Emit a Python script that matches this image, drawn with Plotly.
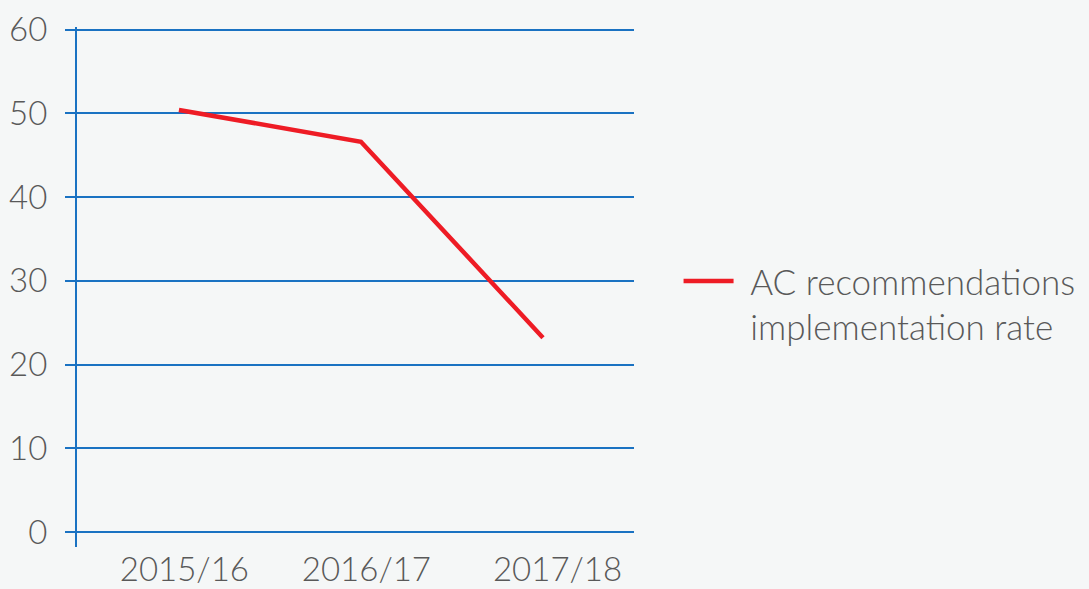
import plotly.graph_objects as go

years = ["2015/16", "2016/17", "2017/18"]
rate = [50.4, 46.6, 23.2]
y_ticks = [0, 10, 20, 30, 40, 50, 60]
series_name = "\u2006\u2006AC recommendations<br>\u2006\u2006implementation rate"

BLUE = "#1a72c2"
RED = "#ee1c25"
GREY = "#595959"
BG = "#f5f7f7"
FONT = dict(family="Lato", size=33, color=GREY, weight=300)
LEG_FONT = dict(family="Lato", size=35, color=GREY, weight=300)

fig = go.Figure()
fig.add_trace(go.Scatter(x=[0, 1, 2], y=rate, mode="lines", name=series_name,
                         line=dict(color=RED, width=4.5)))

fig.update_layout(
    width=1089, height=589,
    paper_bgcolor=BG, plot_bgcolor=BG,
    margin=dict(l=77, r=455, t=26.5, b=42, autoexpand=False),
    font=FONT,
    showlegend=True,
    legend=dict(x=1.08, y=0.468, xanchor="left", yanchor="middle", valign="top",
                bgcolor="rgba(0,0,0,0)", font=LEG_FONT, itemwidth=50),
    xaxis=dict(range=[-0.56, 2.5], tickvals=[0.03, 1.03, 2.08], ticktext=years,
               showgrid=False, zeroline=False, showline=False, ticks="",
               tickfont=FONT, automargin=False),
    yaxis=dict(range=[-1.79, 60.3], tickvals=y_ticks, showgrid=True, gridcolor=BLUE,
               gridwidth=2, zeroline=False, showline=True, linecolor=BLUE, linewidth=2,
               ticks="outside", ticklen=10, tickcolor=BLUE, tickwidth=2,
               ticklabelstandoff=11, tickfont=FONT, automargin=False),
)

fig.write_html("out.html", config={"displayModeBar": False})
with open("out.html", encoding="utf-8") as f:
    html = f.read()
html = html.replace("<body>", '<body style="margin:0;padding:0;">', 1)
with open("out.html", "w", encoding="utf-8") as f:
    f.write(html)
